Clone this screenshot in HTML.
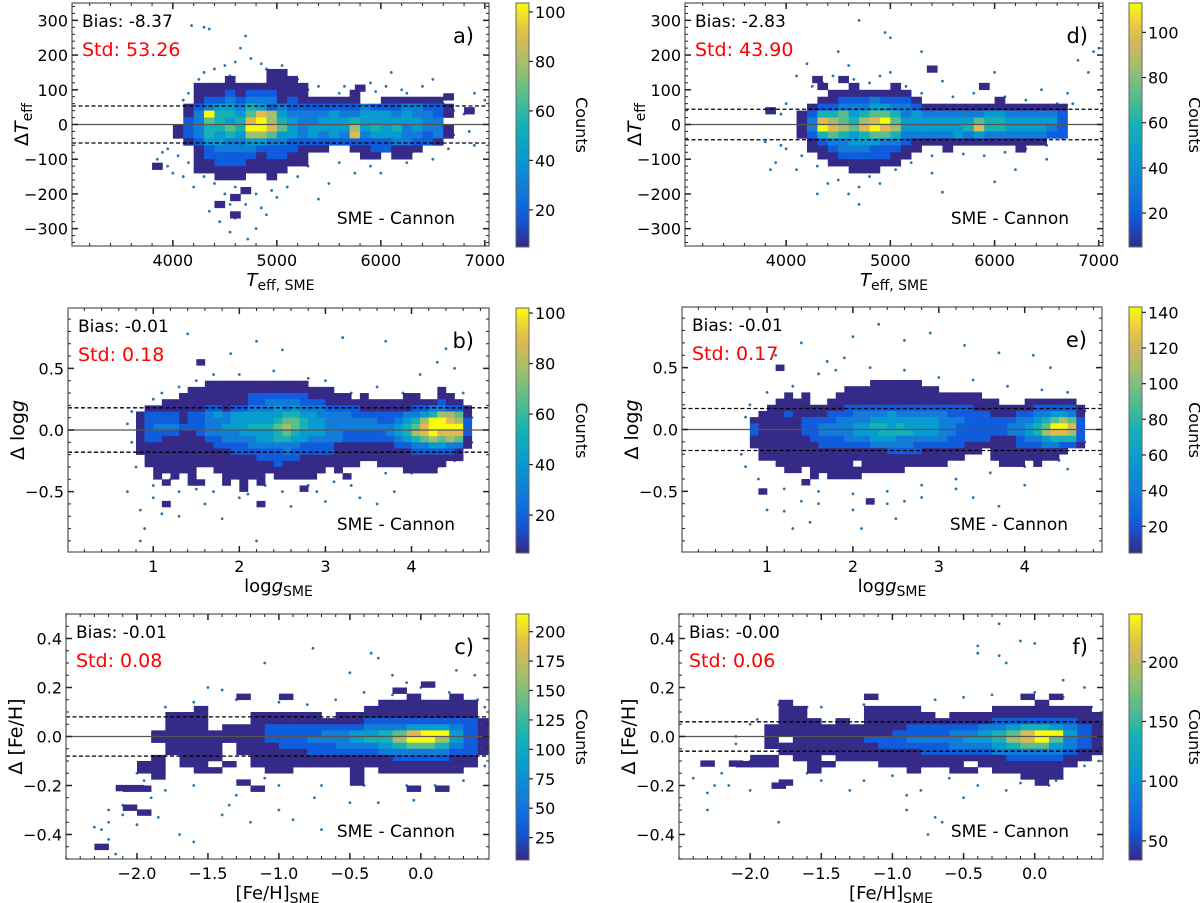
<!DOCTYPE html>
<html><head><meta charset="utf-8">
<style>
html,body{margin:0;padding:0;background:#fff;}
svg{display:block;font-family:"DejaVu Sans","Liberation Sans",sans-serif;}
</style></head>
<body>
<svg id="fig" width="1200" height="903" viewBox="0 0 1200 903" xmlns="http://www.w3.org/2000/svg"></svg>
<script>
// ===== DATA =====
const aRows = [
"000000000001100000000000000000",
"000000010001110000000000000000",
"000011111111111000000000000000",
"000011121222111000010000000000",
"000012232333121111110011111100",
"000123443542322222223222332210",
"000139554687433334334443433210",
"000236545897543344454444443300",
"001235565998643444474545343310",
"001235454776443434383444332310",
"000124433443322222222223322100",
"000012333322221110011221110000",
"000012222212211000001101100000",
"000011222111111000000000000000",
"000011111111100000000000000000",
"000000111001000000000000000000"];
const aExtra = [[3850,-120,1],[4450,-230,1],[4600,-260,1],[4700,-190,1],[4600,-210,1],[5800,105,1],[5850,-90,1],[6650,80,1],[6850,40,1]];
const aPts = [[4300,280],[4350,275],[4180,285],[4700,255],[4650,220],[4850,175],[4900,160],[5200,130],[5650,110],[6100,150],[6500,130],[6400,110],[6900,90],[7000,70],[6800,30],[6850,-20],[6900,-60],[3850,-100],[3900,-80],[4000,-140],[4350,-250],[4450,-280],[4500,-200],[4700,-230],[4800,-300],[4720,-330],[5000,-210],[5400,-215],[5500,-170],[5750,-140],[6000,-140],[6300,-80],[4100,-150],[4200,-180],[4550,-310],[5900,120],[6200,100],[3950,-120],[4600,-270],[4900,-260],
[4250,130],[4300,150],[4400,160],[4500,170],[4550,140],[4600,180],[4750,190],[5050,170],[5150,120],[5300,100],[5400,110],[5600,90],[5800,100],[5950,95],[6050,110],[6250,90],[6350,75],[6600,60],[6700,40],[6700,-30],[6650,-70],[6500,-100],[6250,-110],[5900,-120],[5600,-110],[5300,-120],[5200,-150],[5100,-180],[4950,-190],[4800,-200],[4600,-180],[4400,-170],[4300,-150],[4150,-110],[4050,-90],[3950,-70],[4100,70],[4150,90],[4550,-230],[4850,-240]];

const dRows = [
"000000000000000000000000000000",
"000000000000000000000000000000",
"000001001000100000000000000000",
"000000111111110000000000000000",
"000001122232221000000010000000",
"000012233344332111111111111110",
"000125564566534333333443333320",
"000138765789644444446554444420",
"000139876898744444458554444320",
"000125654566533333434333333220",
"000012334443321111111111111000",
"000011233322211001000000100000",
"000001122222110000000000000000",
"000000111111100000000000000000",
"000000001110000000000000000000",
"000000000000000000000000000000"];
const dExtra = [[5400,160,1],[5900,110,1],[4300,130,1],[4550,130,1],[3850,40,1]];
const dPts = [[4700,300],[4950,265],[5000,250],[5300,210],[4500,210],[4200,175],[4600,170],[4100,140],[5000,150],[5500,125],[6000,150],[6800,185],[6950,210],[7000,220],[6900,150],[6700,90],[6750,60],[7050,40],[3900,-110],[3850,-130],[4100,-130],[4300,-200],[4600,-200],[4700,-230],[4400,-170],[4800,-150],[5500,-195],[6000,-165],[6200,-130],[3950,-60],[3800,-50],[5400,-140],[6500,-100],[6650,-40],
[4250,110],[4350,120],[4450,140],[4650,130],[4800,120],[4900,140],[5150,110],[5300,90],[5600,80],[5800,90],[6100,80],[6300,70],[6450,100],[6600,60],[6500,-60],[6300,-70],[6100,-80],[5900,-90],[5700,-85],[5400,-90],[5200,-110],[5050,-130],[4900,-170],[4700,-180],[4500,-160],[4300,-120],[4150,-90],[4000,-70],[3950,30],[4000,60]];

const bRows = [
"0000000000000000000000000000000000000000",
"0000000001111111111110000000000000000000",
"0000000111111111111111110000000000001000",
"0000001111111122222221111101000011001100",
"0000111111111122333322211111111111112110",
"0011111112212233343433322221111112233221",
"0122221223434444445544333322222233457761",
"0122221223334444456654433333322345799872",
"0123332223344455567654433333333456899992",
"0122221123333444456544433222223457898882",
"0122111112233334455443333222222345676761",
"0111111111222233333322221111111223344331",
"0111111111112222223222221111111112222210",
"0011111111111112222211111111111111111110",
"0011111111111111121111111110011111111000",
"0001111100111111111111101000000011110000",
"0001010100011111011111000100000000000000",
"0000100110010101000000000000000000000000",
"0000000000000100000010000000000000000000",
"0000000000000000000000000000000000000000"];
const bExtra = [[1.55,0.55,1],[1.15,-0.6,1],[2.25,-0.6,1]];
const bPts = [[1.8,1.0],[1.4,0.78],[2.2,0.72],[1.9,0.62],[2.5,0.65],[3.2,0.75],[3.7,0.72],[4.4,0.66],[4.3,0.55],[4.1,0.45],[4.5,0.5],[1.1,0.3],[1.3,0.35],[0.7,0.05],[0.75,-0.1],[0.7,-0.5],[0.85,-0.65],[0.9,-0.8],[0.85,-0.9],[1.1,-0.68],[1.3,-0.7],[1.6,-0.6],[1.8,-0.72],[2.2,-0.9],[2.6,-0.62],[3.0,-0.58],[3.4,-0.55],[3.6,-0.6],[3.8,-0.5],[4.0,-0.35],[4.3,-0.3],[2.0,-0.55],[1.5,-0.48],[2.8,-0.45],[1.0,-0.55],
[1.0,0.25],[1.5,0.4],[1.7,0.45],[2.0,0.45],[2.4,0.48],[2.8,0.42],[3.0,0.4],[3.3,0.3],[3.6,0.35],[3.9,0.3],[4.6,0.3],[4.7,0.1],[4.7,-0.1],[4.5,-0.25],[4.1,-0.3],[3.7,-0.35],[3.3,-0.45],[2.9,-0.5],[2.5,-0.5],[2.1,-0.52],[1.7,-0.5],[1.3,-0.5],[1.0,-0.45],[0.8,-0.3],[0.75,0.15],[1.2,-0.4],[2.3,-0.45],[3.1,-0.42]];

const eRows = [
"0000000000000000000000000000000000000000",
"0000000000000001111110000000000000000000",
"0000000000001111111111100000000000000000",
"0000010100011111111111111111000000000000",
"0000111100111111111111111111110001111110",
"0001111111112222222222222221111111222221",
"0011121111222333343333332222211122334431",
"0111111222233334444444433322222233456762",
"0211111223333445545444433222222334569982",
"0211111223333444555544433222222334578872",
"0111111122223334443333332222211123345552",
"0111111112222223333322222211111122233221",
"0011111111111111122221111111011111111100",
"0011111111111111111111111100011111111000",
"0000111111111011111111110000001110100000",
"0000011011111111111000000000000000000000",
"0000000010111100000000000000000000000000",
"0000000100000000000000000000000000000000",
"0000000000000000000000000000000000000000",
"0000000000000000000000000000000000000000"];
const eExtra = [[1.15,0.5,1],[0.95,-0.5,1],[2.2,-0.58,1]];
const ePts = [[2.0,0.75],[2.3,0.85],[1.4,0.7],[1.1,0.6],[1.7,0.55],[1.9,0.58],[2.6,0.72],[2.9,0.78],[3.3,0.68],[4.1,0.6],[4.3,0.5],[3.7,0.62],[0.8,0.2],[0.7,-0.2],[0.75,-0.3],[1.0,-0.65],[1.2,-0.66],[1.6,-0.6],[1.5,-0.75],[2.0,-0.65],[2.1,-0.8],[2.4,-0.6],[2.8,-0.55],[3.4,-0.55],[3.7,-0.62],[3.2,-0.48],[4.0,-0.45],[4.5,-0.32],[1.3,-0.8],[2.5,-0.72],
[1.0,0.3],[1.3,0.35],[1.6,0.45],[1.8,0.48],[2.2,0.5],[2.6,0.48],[3.0,0.42],[3.4,0.4],[3.8,0.35],[4.2,0.32],[4.5,0.3],[4.7,0.15],[4.7,-0.1],[4.4,-0.25],[4.0,-0.3],[3.6,-0.35],[3.2,-0.4],[2.8,-0.45],[2.4,-0.5],[2.0,-0.52],[1.6,-0.5],[1.2,-0.48],[0.9,-0.4],[0.75,0.1],[1.4,-0.58],[2.6,-0.58]];

const cRows = [
"0000000000000000000000010000",
"0000000000000000000001000000",
"0000000000100100000000100100",
"0000000000000000000011111110",
"0000000100000000000111111110",
"0000011100011111011111111110",
"0000011100011111111222222221",
"0000011101112222222333444321",
"0000111111112222334456899421",
"0000111111112223334557997421",
"0000011110111222233345665321",
"0000011110111112222233333221",
"0000101110011111111112222110",
"0001101101011111111111111110",
"0001100110001100001011111100",
"0000100000000000001000000000",
"0000000000100000001000000000",
"0011000000010000000000101000"];
const cExtra = [[-2.0,-0.21,1],[-2.1,-0.21,1],[-2.05,-0.29,1],[-1.95,-0.31,1],[-2.25,-0.45,1]];
const cPts = [[-0.76,0.36],[-0.35,0.34],[-0.3,0.32],[-1.1,0.3],[-0.5,0.26],[-0.2,0.25],[-0.1,0.22],[0.25,0.27],[0.38,0.25],[-1.5,0.2],[-1.4,0.19],[-1.9,-0.25],[-2.1,-0.28],[-2.2,-0.35],[-2.25,-0.38],[-2.2,-0.42],[-2.3,-0.37],[-2.0,-0.36],[-1.85,-0.33],[-1.7,-0.4],[-1.6,-0.43],[-1.4,-0.32],[-1.2,-0.35],[-1.0,-0.3],[-0.9,-0.34],[-0.7,-0.38],[-0.5,-0.27],[-0.3,-0.27],[-0.05,-0.26],[-2.15,-0.48],[-1.35,-0.28],[-0.75,-0.25],[0.45,-0.05],[0.45,0.12],
[-1.9,-0.12],[-1.85,0.02],[-1.8,0.12],[-1.6,0.14],[-1.3,0.15],[-1.0,0.14],[-0.8,0.13],[-0.6,0.15],[-0.4,0.18],[-0.2,0.17],[0.0,0.2],[0.2,0.18],[0.4,0.15],[0.45,-0.12],[0.3,-0.18],[0.1,-0.2],[-0.1,-0.2],[-0.4,-0.2],[-0.7,-0.2],[-1.0,-0.2],[-1.3,-0.24],[-1.6,-0.2],[-1.8,-0.22],[-2.1,-0.32],[-2.2,-0.3],[-2.0,-0.15],[-1.95,-0.18],[-1.1,-0.17]];

const fRows = [
"0000000000000000000000000000",
"0000000000000000000000000000",
"0000000000010000000000101000",
"0000010000000000000000010000",
"0000011000011110000011111110",
"0000011000011111011111111111",
"0000011101011111111122222211",
"0000111111111122222334554321",
"0000111111111222233456899421",
"0000101111122233334457896321",
"0000111111112222233345664321",
"0000011111111112222233333211",
"0001101101111111111112222110",
"0011100110001111110111111100",
"0000000100000010011011111000",
"0000000000000000000000111000",
"0000010000000000000000010000",
"0000000000000000000000000000"];
const fExtra = [[-2.3,-0.11,1],[-2.1,-0.11,1],[-1.8,-0.2,1]];
const fPts = [[-0.25,0.46],[-0.1,0.39],[-0.4,0.37],[-0.4,0.34],[0.0,0.38],[-0.25,0.33],[-0.2,0.3],[0.2,0.23],[0.35,0.2],[-1.6,0.12],[-1.8,0.13],[-2.0,0.05],[-2.1,-0.03],[-2.25,-0.2],[-2.3,-0.23],[-2.15,-0.2],[-2.0,-0.22],[-1.8,-0.35],[-2.5,-0.28],[-2.3,-0.3],[-0.9,-0.3],[-0.7,-0.33],[-0.75,-0.4],[-0.65,-0.35],[-0.9,-0.24],[-0.5,-0.25],[-0.2,-0.22],[0.1,-0.2],[-1.3,-0.22],[-1.5,-0.18],[0.45,-0.1],[0.45,0.08],
[-1.7,0.1],[-1.5,0.12],[-1.2,0.13],[-0.9,0.12],[-0.7,0.15],[-0.5,0.16],[-0.3,0.17],[0.0,0.18],[0.2,0.16],[0.4,0.12],[0.45,-0.06],[0.35,-0.12],[0.15,-0.18],[-0.1,-0.19],[-0.4,-0.2],[-0.6,-0.17],[-1.0,-0.16],[-1.2,-0.18],[-1.6,-0.15],[-1.9,-0.12],[-2.0,-0.1],[-2.2,-0.15],[-2.4,-0.17],[-2.1,0.0],[-1.95,0.07],[-0.8,-0.22]];

const biasValues = ["-8.37","-0.01","-0.01","-2.83","-0.01","-0.00"];
const stdValues = [53.26,0.18,0.08,43.90,0.17,0.06];
const teffTicks = [4000,5000,6000,7000];
const teffYTicks = [-300,-200,-100,0,100,200,300];
const loggTicks = [1,2,3,4];
const loggYTicks = [-0.5,0.0,0.5];
const fehTicks = [-2.0,-1.5,-1.0,-0.5,0.0];
const fehYTicks = [-0.4,-0.2,0.0,0.2,0.4];
const cbarTicksA = [20,40,60,80,100];
const cbarTicksB = [20,40,60,80,100];
const cbarTicksC = [25,50,75,100,125,150,175,200];
const cbarTicksD = [20,40,60,80,100];
const cbarTicksE = [20,40,60,80,100,120,140];
const cbarTicksF = [50,100,150,200];

// ===== RENDER =====
const NS="http://www.w3.org/2000/svg";
const svg=document.getElementById('fig');
function mk(tag,attrs,parent){const e=document.createElementNS(NS,tag);for(const k in attrs)e.setAttribute(k,attrs[k]);(parent||svg).appendChild(e);return e;}
const PAR=[[0,[53,42,135]],[0.125,[15,92,221]],[0.25,[18,125,216]],[0.375,[7,156,207]],[0.5,[21,177,180]],[0.625,[89,189,140]],[0.75,[165,190,107]],[0.875,[225,185,82]],[1,[249,251,14]]];
function cmap(t){t=Math.max(0,Math.min(1,t));for(let i=1;i<PAR.length;i++){if(t<=PAR[i][0]){const a=PAR[i-1],b=PAR[i];const f=(t-a[0])/(b[0]-a[0]);const c=a[1].map((v,k)=>Math.round(v+(b[1][k]-v)*f));return `rgb(${c[0]},${c[1]},${c[2]})`;}}return 'rgb(249,251,14)';}
function fmt(v,dec){const s=v.toFixed(dec);return s.replace('-','\u2212');}

const defs=mk('defs',{});
const grad=mk('linearGradient',{id:'parula',x1:0,y1:1,x2:0,y2:0},defs);
for(let i=0;i<=20;i++){mk('stop',{offset:i/20,'stop-color':cmap(i/20)},grad);}

const T={
 teff:{xmin:3030,xmax:7040,ymin:-350,ymax:350,xt:teffTicks,xm:200,xd:0,yt:teffYTicks,ym:20,yd:0,x0:3800,xBin:100,yTop:160,yBin:20},
 logg:{xmin:0.01,xmax:4.9,ymin:-0.99,ymax:0.99,xt:loggTicks,xm:0.2,xd:0,yt:loggYTicks,ym:0.1,yd:1,x0:0.7,xBin:0.1,yTop:0.45,yBin:0.05},
 feh:{xmin:-2.5,xmax:0.48,ymin:-0.5,ymax:0.5,xt:fehTicks,xm:0.1,xd:1,yt:fehYTicks,ym:0.05,yd:1,x0:-2.3,xBin:0.1,yTop:0.225,yBin:0.025}
};
const panels=[
 {id:'a',t:T.teff,L:72,R:489,Tp:3,B:246,cx:516,rows:aRows,ex:aExtra,pts:aPts,vmin:5,vmax:103.6,ct:cbarTicksA,bi:0,kind:'teff'},
 {id:'b',t:T.logg,L:68,R:489,Tp:308,B:552,cx:516,rows:bRows,ex:bExtra,pts:bPts,vmin:5,vmax:102,ct:cbarTicksB,bi:1,kind:'logg'},
 {id:'c',t:T.feh,L:66,R:489,Tp:614,B:859,cx:516,rows:cRows,ex:cExtra,pts:cPts,vmin:6,vmax:215,ct:cbarTicksC,bi:2,kind:'feh'},
 {id:'d',t:T.teff,L:685,R:1103,Tp:3,B:246,cx:1129,rows:dRows,ex:dExtra,pts:dPts,vmin:5,vmax:113,ct:cbarTicksD,bi:3,kind:'teff'},
 {id:'e',t:T.logg,L:682,R:1102,Tp:307,B:552,cx:1129,rows:eRows,ex:eExtra,pts:ePts,vmin:5,vmax:143,ct:cbarTicksE,bi:4,kind:'logg'},
 {id:'f',t:T.feh,L:679,R:1103,Tp:614,B:859,cx:1129,rows:fRows,ex:fExtra,pts:fPts,vmin:34,vmax:240,ct:cbarTicksF,bi:5,kind:'feh'}
];

panels.forEach(P=>{
 const t=P.t;
 const sx=v=>P.L+(v-t.xmin)/(t.xmax-t.xmin)*(P.R-P.L);
 const sy=v=>P.B-(v-t.ymin)/(t.ymax-t.ymin)*(P.B-P.Tp);
 const g=mk('g',{});
 
 
 const cp=mk('clipPath',{id:'clip'+P.id},defs);
 mk('rect',{x:P.L,y:P.Tp,width:P.R-P.L,height:P.B-P.Tp},cp);
 const plot=mk('g',{'clip-path':`url(#clip${P.id})`},g);
 const sg=mk('g',{},plot);
 
 
 P.pts.forEach(p=>{mk('circle',{cx:sx(p[0]),cy:sy(p[1]),r:1.4,fill:'#1f77b4'},sg);});
 const hg=mk('g',{},plot);
 
 
 const cell=(x0,yT,lvl)=>{
   // level 1 = lowest count (vmin), level 9 = vmax
   const count=P.vmin+(lvl-1)/8*(P.vmax-P.vmin);
   const x1=sx(x0),x2=sx(x0+t.xBin),y1=sy(yT),y2=sy(yT-t.yBin);
   const r=mk('rect',{x:x1,y:y1,width:x2-x1+0.3,height:y2-y1+0.3,fill:cmap((count-P.vmin)/(P.vmax-P.vmin))},hg);
   
   
 };
 P.rows.forEach((row,ri)=>{
  for(let c=0;c<row.length;c++){const l=+row[c];if(l>0)cell(t.x0+c*t.xBin,t.yTop-ri*t.yBin,l);}
 });
 P.ex.forEach(e=>cell(e[0]-t.xBin/2,e[1]+t.yBin/2,e[2]));
 const sd=stdValues[P.bi];
 const zl=mk('line',{x1:P.L,x2:P.R,y1:sy(0),y2:sy(0),stroke:'#555',"stroke-width":1.2},g);
 
 
 [sd,-sd].forEach(v=>{
  const l=mk('line',{x1:P.L,x2:P.R,y1:sy(v),y2:sy(v),stroke:'#000',"stroke-width":1.3,"stroke-dasharray":"4,2.5"},g);
  
  
 });
 const fr=mk('rect',{x:P.L,y:P.Tp,width:P.R-P.L,height:P.B-P.Tp,fill:'none',stroke:'#555','stroke-width':1.2},g);
 
 
 const tg=mk('g',{stroke:'#222','stroke-width':1},g);
 const eps=1e-9;
 for(let v=Math.ceil(t.xmin/t.xm)*t.xm;v<=t.xmax+eps;v+=t.xm){const X=sx(v);mk('line',{x1:X,x2:X,y1:P.B,y2:P.B-3},tg);mk('line',{x1:X,x2:X,y1:P.Tp,y2:P.Tp+3},tg);}
 for(let v=Math.ceil(t.ymin/t.ym)*t.ym;v<=t.ymax+eps;v+=t.ym){const Y=sy(v);mk('line',{x1:P.L,x2:P.L+3,y1:Y,y2:Y},tg);mk('line',{x1:P.R,x2:P.R-3,y1:Y,y2:Y},tg);}
 t.xt.forEach(v=>{const X=sx(v);mk('line',{x1:X,x2:X,y1:P.B,y2:P.B-6,'stroke-width':1.5},tg);mk('line',{x1:X,x2:X,y1:P.Tp,y2:P.Tp+6,'stroke-width':1.5},tg);
  const tx=mk('text',{x:X,y:P.B+20,'font-size':16,'text-anchor':'middle',fill:'#000'},g);tx.textContent=fmt(v,t.xd);
  
  });
 t.yt.forEach(v=>{const Y=sy(v);mk('line',{x1:P.L,x2:P.L+6,y1:Y,y2:Y,'stroke-width':1.5},tg);mk('line',{x1:P.R,x2:P.R-6,y1:Y,y2:Y,'stroke-width':1.5},tg);
  const tx=mk('text',{x:P.L-4,y:Y+6,'font-size':16,'text-anchor':'end',fill:'#000'},g);tx.textContent=fmt(v,t.yd);
  
  });
 const b=mk('text',{x:P.L+10,y:P.Tp+24,'font-size':17,fill:'#000'},g);b.textContent='Bias: '+biasValues[P.bi];
 
 
 const s=mk('text',{x:P.L+10,y:P.Tp+53,'font-size':19,fill:'#ff0000'},g);s.textContent='Std: '+sd.toFixed(2);
 
 
 const pl=mk('text',{x:P.R-15,y:P.Tp+40,'font-size':21,'text-anchor':'end',fill:'#000'},g);pl.textContent=P.id+')';
 
 
 const sc=mk('text',{x:P.R-34,y:P.B-22,'font-size':17,'text-anchor':'end',fill:'#000'},g);sc.textContent='SME - Cannon';
 
 
 const ylab=mk('text',{transform:`translate(${P.L-44},${(P.Tp+P.B)/2}) rotate(-90)`,'font-size':19,'text-anchor':'middle',fill:'#000'},g);
 
 
 const xlab=mk('text',{x:(P.L+P.R)/2,y:P.B+40,'font-size':18,'text-anchor':'middle',fill:'#000'},g);
 
 
 if(P.kind==='teff'){
  ylab.innerHTML='Δ<tspan font-style="italic">T</tspan><tspan font-size="14" dy="4">eff</tspan>';
  xlab.innerHTML='<tspan font-style="italic">T</tspan><tspan font-size="14" dy="4">eff, SME</tspan>';
 }else if(P.kind==='logg'){
  ylab.innerHTML='Δ log<tspan font-style="italic">g</tspan>';
  xlab.innerHTML='log<tspan font-style="italic">g</tspan><tspan font-size="14" dy="4">SME</tspan>';
 }else{
  ylab.innerHTML='Δ [Fe/H]';
  xlab.innerHTML='[Fe/H]<tspan font-size="14" dy="4">SME</tspan>';
 }
 const cb=mk('g',{});
 
 
 const cw=13,cT=P.Tp,cB=P.B+1;
 mk('rect',{x:P.cx,y:cT,width:cw,height:cB-cT,fill:'url(#parula)',stroke:'#666','stroke-width':1},cb);
 const cy=v=>cB-(v-P.vmin)/(P.vmax-P.vmin)*(cB-cT);
 P.ct.forEach(v=>{const Y=cy(v);mk('line',{x1:P.cx+cw,x2:P.cx+cw+4,y1:Y,y2:Y,stroke:'#222','stroke-width':1.2},cb);
  const tx=mk('text',{x:P.cx+cw+6,y:Y+6,'font-size':16,fill:'#000'},cb);tx.textContent=v;
  
  });
 const cl=mk('text',{transform:`translate(${P.cx+60},${(cT+cB)/2}) rotate(90)`,'font-size':16,'text-anchor':'middle',fill:'#000'},cb);
 cl.textContent='Counts';
 
 
});
</script>
</body></html>
